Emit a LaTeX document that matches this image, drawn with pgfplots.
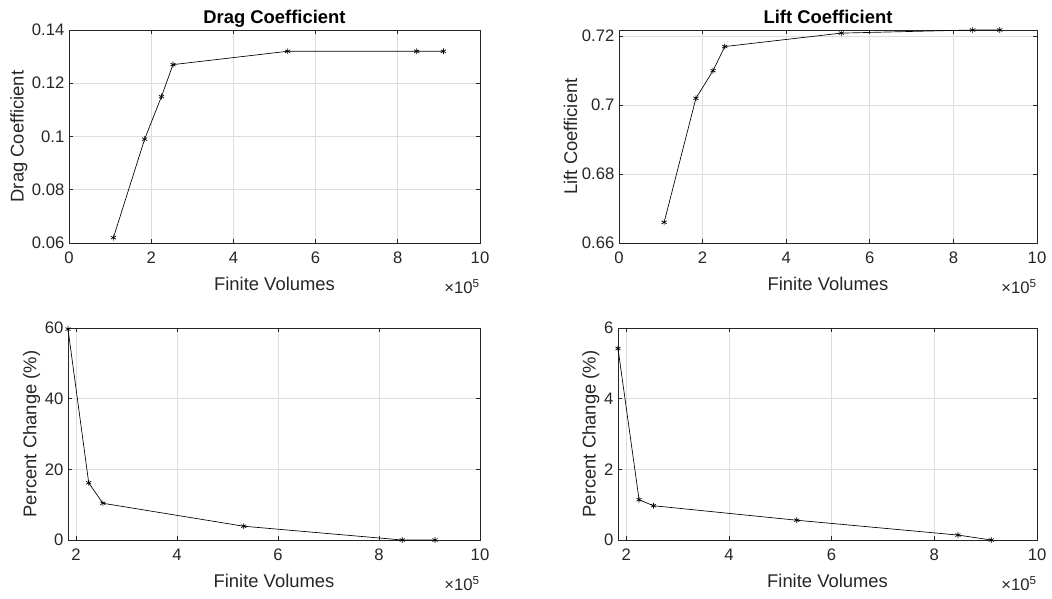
\documentclass[border=0pt]{standalone}
\usepackage{fontspec}
\setmainfont{Liberation Sans}
\usepackage{pgfplots}
\pgfplotsset{compat=1.18}

\definecolor{axgray}{rgb}{0.15,0.15,0.15}
\definecolor{gridgray}{rgb}{0.87,0.87,0.87}

\pgfplotsset{
  mlab/.style={
    scale only axis,
    anchor=north west,
    axis line style={axgray, line width=0.5pt},
    every tick/.style={axgray, line width=0.5pt},
    major tick length=3pt,
    tick align=inside,
    tick pos=both,
    grid=major,
    major grid style={gridgray, line width=0.5pt},
    ticklabel style={font=\fontsize{12.5}{14}\selectfont, text=axgray},
    xticklabel style={yshift=-3pt},
    label style={font=\fontsize{13.8}{16}\selectfont, text=axgray},
    ylabel style={yshift=-3.5pt},
    title style={font=\fontsize{13.8}{16}\selectfont\bfseries, text=black,
      at={(axis description cs:0.5,1)}, anchor=base, yshift=-1pt},
    /pgf/number format/assume math mode=true,
    scaled x ticks=false,
    scaled y ticks=false,
    xlabel style={at={(axis description cs:0.5,0)}, anchor=center, yshift=-31pt},
    yticklabel style={/pgf/number format/fixed, /pgf/number format/precision=2},
    xmax=1000000,
    xtick={0,200000,400000,600000,800000,1000000},
    xticklabels={0,2,4,6,8,10},
    xlabel={Finite Volumes},
    after end axis/.code={
      \node[anchor=north east, inner sep=0pt, yshift=-27pt,
        font=\fontsize{12.5}{14}\selectfont, text=axgray]
        at (rel axis cs:1,0) {×10\textsuperscript{5}};
    },
  },
  conv/.style={black, line width=0.5pt, mark=asterisk, mark size=2.2pt,
    mark options={solid, line width=0.5pt}},
}

\begin{document}
\begin{tikzpicture}
\useasboundingbox (0,0) rectangle (789pt,-449.25pt);

% drag coefficient
\begin{axis}[mlab, at={(51.75pt,-22.5pt)}, width=308.25pt, height=159.75pt,
  xmin=0, ymin=0.06, ymax=0.14, ytick={0.06,0.08,0.1,0.12,0.14},
  title={Drag Coefficient}, ylabel={Drag Coefficient}]
\addplot[conv] coordinates {
  (108000,0.062) (184000,0.099) (225000,0.115) (253000,0.127)
  (532000,0.132) (846000,0.132) (911000,0.132)
};
\end{axis}

% lift coefficient
\begin{axis}[mlab, at={(464.25pt,-22.5pt)}, width=313.5pt, height=159.75pt,
  xmin=0, ymin=0.66, ymax=0.7218, ytick={0.66,0.68,0.7,0.72},
  title={Lift Coefficient}, ylabel={Lift Coefficient}]
\addplot[conv] coordinates {
  (108000,0.666) (184000,0.702) (225000,0.710) (253000,0.717)
  (532000,0.7209) (846000,0.7218) (911000,0.7218)
};
\end{axis}

% drag percent change
\begin{axis}[mlab, at={(51pt,-246pt)}, width=309pt, height=159pt,
  xmin=184000, ymin=0, ymax=60, ytick={0,20,40,60},
  xtick={200000,400000,600000,800000,1000000},
  xticklabels={2,4,6,8,10},
  ylabel={Percent Change (\%)}]
\addplot[conv] coordinates {
  (184000,59.7) (225000,16.2) (253000,10.4) (532000,3.9)
  (846000,0) (911000,0)
};
\end{axis}

% lift percent change
\begin{axis}[mlab, at={(463.5pt,-246pt)}, width=314.25pt, height=159pt,
  xmin=184000, ymin=0, ymax=6, ytick={0,2,4,6},
  xtick={200000,400000,600000,800000,1000000},
  xticklabels={2,4,6,8,10},
  ylabel={Percent Change (\%)}]
\addplot[conv] coordinates {
  (184000,5.42) (225000,1.14) (253000,0.97) (532000,0.56)
  (846000,0.14) (911000,0)
};
\end{axis}
\end{tikzpicture}
\end{document}
